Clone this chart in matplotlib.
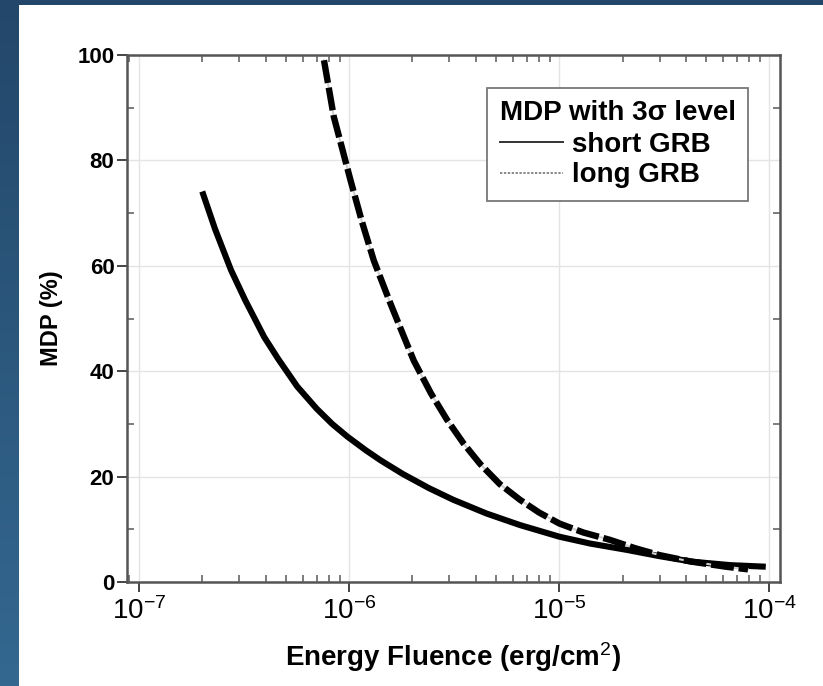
import numpy as np
import matplotlib
matplotlib.use("Agg")
import matplotlib.pyplot as plt
from matplotlib.lines import Line2D
from matplotlib.ticker import LogLocator, MultipleLocator

plt.rcParams['font.family'] = ['Liberation Sans', 'DejaVu Sans']
plt.rcParams['mathtext.fontset'] = 'custom'
plt.rcParams['mathtext.rm'] = 'Liberation Sans'
plt.rcParams['mathtext.it'] = 'Liberation Sans:italic'
plt.rcParams['mathtext.bf'] = 'Liberation Sans:bold'

# ---- data ----
short_fluence = [2.0e-7, 2.3e-7, 2.74e-7, 3.2e-7, 3.94e-7, 4.6e-7, 5.66e-7, 7.0e-7,
                 8.3e-7, 9.8e-7, 1.2e-6, 1.41e-6, 1.8e-6, 2.4e-6, 3.13e-6, 4.5e-6,
                 6.5e-6, 1.0e-5, 1.4e-5, 2.09e-5, 3.0e-5, 4.3e-5, 6.5e-5, 9.6e-5]
short_mdp = [74.1, 67.0, 59.2, 53.5, 46.5, 42.3, 37.1, 32.9,
             30.0, 27.6, 25.0, 23.1, 20.5, 17.8, 15.6, 13.0,
             10.8, 8.6, 7.3, 6.1, 4.9, 3.85, 3.2, 2.9]

long_fluence = [7.59e-7, 8.45e-7, 9.3e-7, 1.014e-6, 1.15e-6, 1.31e-6, 1.57e-6,
                1.82e-6, 2.03e-6, 2.45e-6, 2.92e-6, 3.5e-6, 4.20e-6, 5.2e-6,
                6.50e-6, 8.0e-6, 1.0e-5, 1.3e-5, 1.74e-5, 2.3e-5, 3.0e-5,
                4.2e-5, 6.2e-5, 7.9e-5]
long_mdp = [99.0, 88.3, 82.0, 76.3, 68.4, 61.0, 52.9,
            46.6, 42.0, 35.8, 30.8, 26.3, 22.4, 18.6,
            15.6, 13.2, 11.1, 9.4, 8.0, 6.4, 5.1,
            3.9, 2.9, 2.4]

legend_title = "MDP with 3σ level"
series_labels = ["short GRB", "long GRB"]
x_label = "Energy Fluence (erg/cm$^2$)"
y_label = "MDP (%)"
y_ticks = [0, 20, 40, 60, 80, 100]

# ---- figure ----
W, H = 823, 686
fig = plt.figure(figsize=(W / 100, H / 100), dpi=100)
fig.patch.set_facecolor('white')

# blue frame: left gradient band + top band
bg = fig.add_axes([0, 0, 1, 1], zorder=-10)
bg.axis('off')
grad = np.linspace(0, 1, 256).reshape(-1, 1)
top_c = np.array([0x23, 0x47, 0x6a]) / 255
bot_c = np.array([0x34, 0x68, 0x90]) / 255
img = top_c[None, None, :] * (1 - grad[:, :, None]) + bot_c[None, None, :] * grad[:, :, None]
bg.imshow(img, extent=[0, 19, H, 0], aspect='auto')
bg.imshow(np.tile(top_c, (1, 1, 1)), extent=[0, W, 5, 0], aspect='auto')
bg.set_xlim(0, W)
bg.set_ylim(H, 0)

ax = fig.add_axes([127 / W, 1 - 582 / H, (780 - 127) / W, (582 - 55) / H])
ax.set_xscale('log')
ax.set_xlim(10 ** -7.057, 10 ** -3.95)
ax.set_ylim(0, 100)

ax.grid(True, which='major', color='#e4e4e4', linewidth=1.0)
ax.set_axisbelow(True)

ax.plot(short_fluence, short_mdp, color='black', linewidth=4.4,
        solid_capstyle='butt', solid_joinstyle='round', zorder=3)
ax.plot(long_fluence, long_mdp, color='#cfcfcf', linewidth=1.5, zorder=3)
ax.plot(long_fluence, long_mdp, color='black', linewidth=4.6,
        linestyle=(0, (3.6, 0.75)), dash_capstyle='butt', dash_joinstyle='round', zorder=4)

for s in ax.spines.values():
    s.set_color('#555555')
    s.set_linewidth(1.8)

ax.set_yticks(y_ticks)
ax.yaxis.set_minor_locator(MultipleLocator(10))
ax.xaxis.set_major_locator(LogLocator(base=10, numticks=10))
ax.xaxis.set_minor_locator(LogLocator(base=10, subs=np.arange(2, 10), numticks=20))

ax.tick_params(axis='both', which='major', direction='out', length=7, width=1.4,
               color='#444444', top=False, right=False)
ax.tick_params(axis='both', which='minor', direction='in', length=5, width=1.2,
               color='#666666', top=True, right=True)
ax.tick_params(axis='y', which='major', labelsize=16, pad=2)
ax.tick_params(axis='x', which='major', labelsize=20, pad=4)
for lab in ax.get_yticklabels():
    lab.set_fontweight('bold')

ax.set_xlabel(x_label, fontsize=20, fontweight='bold', labelpad=11)
ax.set_ylabel(y_label, fontsize=17, fontweight='bold', labelpad=10)

handles = [Line2D([], [], color='#333333', linewidth=1.4),
           Line2D([], [], color='#888888', linewidth=1.4, linestyle=(0, (1.2, 0.8)))]
leg = ax.legend(handles, series_labels, title=legend_title, loc='upper right',
                bbox_to_anchor=(748 / W, 1 - 88 / H), bbox_transform=fig.transFigure,
                borderaxespad=0,
                prop={'size': 20, 'weight': 'bold'},
                title_fontproperties={'size': 20, 'weight': 'bold'},
                frameon=True, fancybox=False, framealpha=1, edgecolor='#777777',
                handlelength=2.3, handletextpad=0.3, labelspacing=0.18,
                borderpad=0.45, alignment='left')
leg.get_frame().set_linewidth(1.3)

fig.savefig('out.png', dpi=100)
